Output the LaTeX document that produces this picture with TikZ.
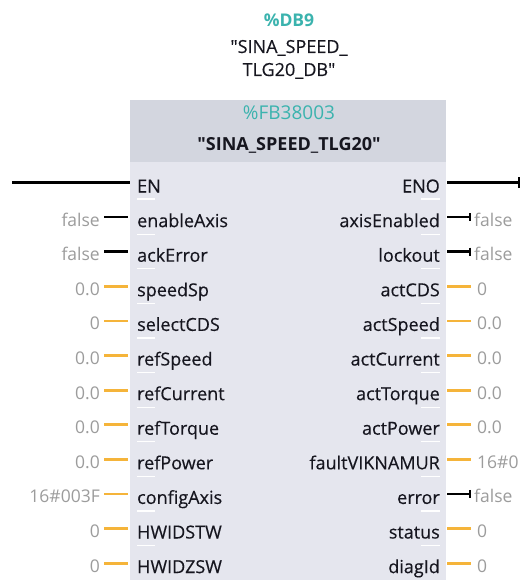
\documentclass[tikz,border=0pt]{standalone}
\usepackage{fontspec}
\setmainfont{Open Sans}
\newfontfamily\pinfont{Open Sans}[FakeBold=0.35]
\usetikzlibrary{arrows.meta}
\definecolor{hdrgray}{HTML}{D3D6DF}
\definecolor{bodygray}{HTML}{E5E6EE}
\definecolor{tealtxt}{HTML}{3BB3AE}
\definecolor{valgray}{HTML}{9C9C9C}
\definecolor{pinorange}{HTML}{F5B43A}
\definecolor{lbl}{HTML}{16161F}
\newcommand{\qq}{\textquotedbl}
\tikzset{
  pinlbl/.style={font=\pinfont\fontsize{18}{20}\selectfont, text=lbl, inner sep=0pt},
  inlbl/.style={pinlbl, anchor=base west},
  outlbl/.style={pinlbl, anchor=base east},
  valtxt/.style={font=\fontsize{17.5}{20}\selectfont, text=valgray, inner sep=0pt},
  inval/.style={valtxt, anchor=base east},
  outval/.style={valtxt, anchor=base west},
  boolwire/.style={draw=black, line width=2.6pt},
  numwire/.style={draw=pinorange, line width=2.8pt},
  outtip/.style={-{Bar[width=8pt,line width=1.8pt]}},
  sep/.style={draw=white, line width=1.2pt},
  title/.style={inner sep=0pt, anchor=base},
}
\begin{document}
\begin{tikzpicture}[x=1pt,y=-1pt]
\useasboundingbox[fill=white] (0,0) rectangle (523,580);
% block body and header
\fill[bodygray] (130,162) rectangle (446,580);
\fill[hdrgray] (130,100) rectangle (446,162);
% instance data block
\node[title, font=\fontsize{17.5}{20}\selectfont\bfseries, text=tealtxt] (db) at (289,27) {\%DB9};
\node[title, font=\pinfont\fontsize{18}{20}\selectfont, text=lbl] (dbn1) at (289,53) {\qq SINA\_SPEED\_};
\node[title, font=\pinfont\fontsize{18}{20}\selectfont, text=lbl] (dbn2) at (289,76) {TLG20\_DB\qq};
% function block name
\node[title, font=\fontsize{19}{20}\selectfont, text=tealtxt] (fb) at (289,120) {\%FB38003};
\node[title, font=\fontsize{18}{20}\selectfont\bfseries, text=lbl] (fbn) at (289,150) {\qq SINA\_SPEED\_TLG20\qq};
% EN / ENO
\node[inlbl] (en) at (137,192.5) {EN};
\node[outlbl] (eno) at (440,192.5) {ENO};
\coordinate (enL) at (12,182.5);
\coordinate (enoR) at (520,182.5);
\draw[boolwire] (enL) -- (130,182.5);
\draw[boolwire, -{Bar[width=11pt,line width=1.8pt]}] (447,182.5) -- (enoR);
\draw[sep] (137,199) -- (155,199);
\draw[sep] (421,199) -- (440,199);
% inputs: index / name / value / kind (b = bool, n = number)
\foreach \i/\nm/\val/\t in {1/enableAxis/false/b, 2/ackError/false/b, 3/speedSp/0.0/n,
  4/selectCDS/0/n, 5/refSpeed/0.0/n, 6/refCurrent/0.0/n, 7/refTorque/0.0/n,
  8/refPower/0.0/n, 9/configAxis/16\#003F/n, 10/HWIDSTW/0/n, 11/HWIDZSW/0/n}{
  \pgfmathsetmacro{\yy}{182.5+34.6*\i}
  \node[inlbl] (in\i) at (137,\yy+10) {\nm};
  \node[inval] (iv\i) at (100,\yy+9) {\val};
  \if\t b
    \draw[boolwire] (104,\yy) -- (128,\yy);
  \else
    \draw[numwire] (104,\yy) -- (128,\yy);
  \fi
  \ifnum\i<11 \draw[sep] (137,\yy+17) -- (155,\yy+17); \fi
}
% outputs
\foreach \i/\nm/\val/\t in {1/axisEnabled/false/b, 2/lockout/false/b, 3/actCDS/0/n,
  4/actSpeed/0.0/n, 5/actCurrent/0.0/n, 6/actTorque/0.0/n, 7/actPower/0.0/n,
  8/faultVIKNAMUR/16\#0/n, 9/error/false/b, 10/status/0/n, 11/diagId/0/n}{
  \pgfmathsetmacro{\yy}{182.5+34.6*\i}
  \node[outlbl] (out\i) at (440,\yy+10) {\nm};
  \if\t b
    \node[outval] (ov\i) at (474,\yy+9) {\val};
    \draw[boolwire, outtip] (447,\yy) -- (471,\yy);
  \else
    \node[outval] (ov\i) at (477,\yy+9) {\val};
    \draw[numwire] (447,\yy) -- (471,\yy);
  \fi
  \ifnum\i<11 \draw[sep] (421,\yy+17) -- (440,\yy+17); \fi
}
\end{tikzpicture}
\end{document}
